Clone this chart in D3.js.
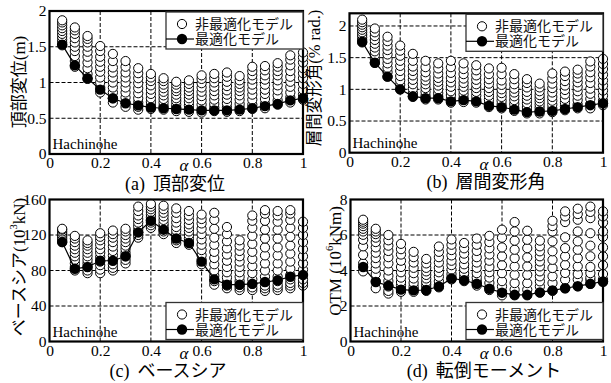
<!DOCTYPE html>
<html><head><meta charset="utf-8">
<script src="https://cdn.jsdelivr.net/npm/d3@7/dist/d3.min.js"></script>
<style>body{margin:0;background:#fff}svg{display:block}</style>
</head><body>
<svg id="c" width="611" height="383"></svg>
<script>
const alphas = [0.05,0.10,0.15,0.20,0.25,0.30,0.35,0.40,0.45,0.50,0.55,0.60,0.65,0.70,0.75,0.80,0.85,0.90,0.95,1.00];
const xTicks = [0,0.2,0.4,0.6,0.8,1];
const legendLabels = ["非最適化モデル","最適化モデル"];
const stationLabel = "Hachinohe";

// (a) 頂部変位
const dispTicks = [0,0.5,1,1.5,2];
const dispOpt = [1.53,1.24,1.06,0.90,0.78,0.71,0.68,0.65,0.64,0.63,0.62,0.61,0.61,0.61,0.62,0.64,0.67,0.70,0.75,0.78];
const dispNon = [
[1.52,1.56,1.60,1.64,1.68,1.72,1.76,1.80,1.84,1.87],
[1.22,1.30,1.37,1.44,1.50,1.56,1.62,1.68,1.73,1.77],
[1.05,1.12,1.20,1.28,1.36,1.43,1.50,1.56,1.61,1.65],
[0.86,0.93,1.00,1.07,1.15,1.22,1.29,1.36,1.44,1.51],
[0.72,0.78,0.86,0.93,1.00,1.07,1.14,1.21,1.30,1.40],
[0.66,0.72,0.79,0.86,0.93,1.00,1.07,1.14,1.22,1.30],
[0.62,0.66,0.72,0.78,0.85,0.92,0.99,1.06,1.13,1.20],
[0.63,0.68,0.73,0.78,0.84,0.90,0.96,1.02,1.07,1.12],
[0.62,0.67,0.72,0.77,0.82,0.87,0.92,0.97,1.02,1.06],
[0.60,0.65,0.69,0.74,0.78,0.83,0.88,0.92,0.97,1.01],
[0.59,0.63,0.68,0.73,0.78,0.83,0.88,0.93,0.98,1.03],
[0.58,0.63,0.69,0.75,0.81,0.87,0.93,0.99,1.05,1.10],
[0.60,0.65,0.70,0.76,0.82,0.88,0.94,1.00,1.06,1.12],
[0.59,0.65,0.71,0.77,0.83,0.89,0.95,1.01,1.08,1.14],
[0.60,0.65,0.70,0.76,0.82,0.88,0.93,0.98,1.03,1.09],
[0.63,0.69,0.76,0.83,0.90,0.97,1.04,1.10,1.16,1.22],
[0.64,0.70,0.77,0.84,0.90,0.97,1.04,1.10,1.17,1.23],
[0.69,0.75,0.82,0.89,0.96,1.03,1.10,1.16,1.22,1.27],
[0.72,0.79,0.86,0.94,1.01,1.08,1.16,1.24,1.32,1.38],
[0.76,0.83,0.90,0.98,1.06,1.13,1.20,1.28,1.35,1.42]
];

// (b) 層間変形角
const driftTicks = [0,0.5,1,1.5,2];
const driftOpt = [1.75,1.42,1.20,1.00,0.89,0.86,0.86,0.81,0.83,0.81,0.74,0.72,0.68,0.64,0.65,0.66,0.69,0.72,0.75,0.78];
const driftNon = [
[1.74,1.78,1.82,1.86,1.90,1.94,1.98,2.02,2.06,2.10],
[1.42,1.48,1.54,1.60,1.66,1.72,1.78,1.84,1.90,1.96],
[1.20,1.27,1.34,1.41,1.48,1.55,1.62,1.69,1.76,1.83],
[1.00,1.07,1.14,1.21,1.29,1.37,1.45,1.53,1.61,1.69],
[0.88,0.94,1.01,1.08,1.15,1.22,1.29,1.36,1.45,1.56],
[0.84,0.90,0.96,1.02,1.08,1.14,1.20,1.27,1.35,1.45],
[0.84,0.89,0.94,1.00,1.06,1.12,1.18,1.25,1.33,1.41],
[0.79,0.85,0.91,0.97,1.04,1.11,1.18,1.26,1.35,1.45],
[0.80,0.86,0.92,0.98,1.04,1.10,1.17,1.24,1.32,1.41],
[0.79,0.84,0.90,0.96,1.02,1.08,1.15,1.22,1.30,1.38],
[0.72,0.78,0.84,0.90,0.96,1.02,1.09,1.16,1.24,1.33],
[0.70,0.76,0.82,0.88,0.94,1.00,1.07,1.14,1.24,1.34],
[0.66,0.71,0.77,0.83,0.89,0.95,1.01,1.08,1.16,1.24],
[0.62,0.67,0.72,0.78,0.84,0.90,0.96,1.03,1.10,1.16],
[0.62,0.66,0.71,0.76,0.81,0.86,0.91,0.97,1.03,1.09],
[0.64,0.70,0.76,0.82,0.88,0.95,1.02,1.09,1.17,1.25],
[0.67,0.73,0.79,0.85,0.92,0.99,1.06,1.13,1.21,1.28],
[0.70,0.76,0.83,0.90,0.97,1.04,1.11,1.18,1.25,1.31],
[0.70,0.77,0.85,0.93,1.01,1.10,1.19,1.27,1.36,1.44],
[0.75,0.82,0.90,0.98,1.06,1.14,1.23,1.32,1.40,1.48]
];

// (c) ベースシア
const shearTicks = [0,40,80,120,160];
const shearOpt = [112,82,84,91,91,96,123,136,126,116,111,90,70,64,64,65,67,69,73,75];
const shearNon = [
[112,114,116,118,120,122,124,126,127],
[80,84,88,92,96,100,104,108,112,116,119],
[77,80,84,88,92,96,100,104,108,111,114],
[77,81,86,90,95,100,104,109,114,118,122],
[80,83,87,92,97,102,107,112,117,121,125],
[88,92,96,100,104,108,112,116,120,124,127],
[117,120,123,126,130,134,138,142,147,152],
[128,131,134,137,140,143,146,149,152,155],
[121,124,127,130,133,137,141,145,149,153],
[111,114,117,121,125,129,134,139,145,150],
[109,112,116,120,124,128,132,137,142,147],
[87,92,97,103,109,115,121,127,133,138,143],
[64,68,74,80,87,94,101,109,117,127,137,145],
[60,63,67,72,78,84,91,98,105,113,121,129],
[58,61,64,68,73,78,84,90,96,102,108,114],
[58,61,65,70,77,85,93,101,110,119,128,136,142],
[57,60,63,67,73,80,88,97,106,116,126,136,144,148],
[58,61,64,68,73,80,88,97,106,116,126,135,142,147],
[60,63,66,70,75,82,90,99,108,118,128,137,144,148],
[63,66,70,75,81,88,96,104,112,120,128,135]
];

// (d) 転倒モーメント
const otmTicks = [0,2,4,6,8];
const otmOpt = [4.20,3.35,3.15,2.92,2.88,2.90,3.10,3.55,3.45,3.25,2.97,2.75,2.63,2.63,2.77,2.88,3.00,3.12,3.25,3.38];
const otmNon = [
[3.95,4.40,4.88,5.36,5.73,6.01,6.20,6.35,6.50,6.64,6.75,6.86],
[3.00,3.40,3.80,4.10,4.40,4.70,5.00,5.30,5.60,5.85,6.05,6.20,6.35],
[2.70,2.85,3.10,3.40,3.70,4.00,4.40,4.75,5.10,5.40,5.70,6.00],
[2.80,2.95,3.15,3.35,3.60,3.90,4.20,4.55,4.90,5.20,5.50],
[2.80,2.95,3.10,3.30,3.55,3.85,4.15,4.45,4.75,5.05],
[2.85,3.05,3.20,3.35,3.55,3.75,3.95,4.15,4.40,4.65],
[3.05,3.20,3.40,3.65,3.90,4.15,4.45,4.75,5.05,5.35],
[3.50,3.60,3.80,4.05,4.30,4.55,4.85,5.15,5.45,5.75],
[3.40,3.50,3.65,3.85,4.10,4.35,4.65,4.95,5.25,5.55],
[3.15,3.25,3.40,3.60,3.85,4.15,4.45,4.75,5.10,5.45,5.80],
[2.90,3.05,3.30,3.60,3.90,4.20,4.55,4.90,5.25,5.60,5.95],
[2.60,2.80,3.10,3.40,3.85,4.30,4.80,5.30,5.85,6.30],
[2.60,2.92,3.29,3.76,4.23,4.70,5.17,5.68,6.20,6.73],
[2.60,2.92,3.29,3.76,4.23,4.74,5.26,5.73,6.24],
[2.75,3.10,3.39,3.67,3.95,4.23,4.51,4.80,5.08,5.36,5.68],
[2.85,3.29,3.67,4.14,4.60,5.08,5.64,6.20,6.50,6.80],
[3.00,3.48,3.86,4.32,4.80,5.26,5.87,6.73,7.05,7.33],
[3.10,3.50,3.80,4.23,4.70,5.17,5.64,6.20,6.86,7.18,7.48],
[3.25,3.45,3.60,3.85,4.20,4.80,5.40,6.10,6.95,7.30,7.60],
[3.35,3.50,3.80,4.30,4.80,5.30,5.90,6.20,6.70,7.05,7.33]
];

const SERIF = "'Liberation Serif','Times New Roman','Noto Sans CJK JP',serif";
const JP = "'Liberation Serif','Noto Sans CJK JP',sans-serif";

const panels = [
  {x0:49.5, x1:303, yT:11, yB:154, ymax:2, ticks:dispTicks, opt:dispOpt, non:dispNon,
   ylab:[{t:"頂部変位(m)"}], ylx:19, ylc:82, ylfs:17, legendTop:true, cap:"(a)", capT:"頂部変位", capX:175},
  {x0:349.5, x1:603, yT:13.3, yB:152.7, ymax:2.2, ticks:driftTicks, opt:driftOpt, non:driftNon,
   ylab:[{t:"層間変形角(% rad.)"}], ylx:314, ylc:78, ylfs:16.5, legendTop:true, cap:"(b)", capT:"層間変形角", capX:486},
  {x0:49.5, x1:303, yT:199.5, yB:341.5, ymax:160, ticks:shearTicks, opt:shearOpt, non:shearNon,
   ylab:[{t:"ベースシア(10"},{t:"3",sup:true},{t:"kN)"}], ylx:19, ylc:267, ylfs:17, legendTop:false, cap:"(c)", capT:"ベースシア", capX:168},
  {x0:350.5, x1:603, yT:199.5, yB:341.5, ymax:8, ticks:otmTicks, opt:otmOpt, non:otmNon,
   ylab:[{t:"OTM (10"},{t:"6",sup:true},{t:"kNm)"}], ylx:335, ylc:261, ylfs:17, legendTop:false, cap:"(d)", capT:"転倒モーメント", capX:484}
];

const svg = d3.select("#c");

panels.forEach(p => {
  const x = d3.scaleLinear().domain([0,1]).range([p.x0,p.x1]);
  const y = d3.scaleLinear().domain([0,p.ymax]).range([p.yB,p.yT]);
  const g = svg.append("g");

  // grid
  g.append("g").selectAll("line").data(xTicks.filter(t=>t>0&&t<1)).join("line")
    .attr("x1",d=>x(d)).attr("x2",d=>x(d)).attr("y1",p.yT).attr("y2",p.yB)
    .attr("stroke","#000").attr("stroke-width",1).attr("stroke-dasharray","4,2");
  g.append("g").selectAll("line").data(p.ticks.filter(t=>t>0&&y(t)>p.yT+2)).join("line")
    .attr("x1",p.x0).attr("x2",p.x1).attr("y1",d=>y(d)).attr("y2",d=>y(d))
    .attr("stroke","#000").attr("stroke-width",1).attr("stroke-dasharray","4,2");

  // axes
  const ax = g.append("g").attr("transform",`translate(0,${p.yB})`)
    .call(d3.axisBottom(x).tickValues(xTicks).tickFormat(d3.format("~g")).tickSize(0).tickPadding(3));
  const ay = g.append("g").attr("transform",`translate(${p.x0},0)`)
    .call(d3.axisLeft(y).tickValues(p.ticks).tickFormat(d3.format("~g")).tickSize(0).tickPadding(3));
  [ax,ay].forEach(a => {
    a.select(".domain").remove();
    a.selectAll("text").attr("font-family",SERIF).attr("font-size",15.5).attr("fill","#000");
  });

  // open circles
  const pts = [];
  p.non.forEach((col,i) => col.forEach(v => pts.push([alphas[i],v])));
  g.append("g").selectAll("circle").data(pts).join("circle")
    .attr("cx",d=>x(d[0])).attr("cy",d=>y(d[1])).attr("r",4.6)
    .attr("fill","#fff").attr("stroke","#000").attr("stroke-width",1);

  // optimized line + dots
  const opt = alphas.map((a,i)=>[a,p.opt[i]]);
  g.append("path").datum(opt)
    .attr("d",d3.line().x(d=>x(d[0])).y(d=>y(d[1])))
    .attr("fill","none").attr("stroke","#000").attr("stroke-width",1.2);
  g.append("g").selectAll("circle").data(opt).join("circle")
    .attr("cx",d=>x(d[0])).attr("cy",d=>y(d[1])).attr("r",5.2).attr("fill","#000");

  // frame
  g.append("rect").attr("x",p.x0).attr("y",p.yT).attr("width",p.x1-p.x0).attr("height",p.yB-p.yT)
    .attr("fill","none").attr("stroke","#000").attr("stroke-width",2.2);

  // station label
  g.append("text").attr("x",p.x0+3).attr("y",p.yB-5).text(stationLabel)
    .attr("font-family",SERIF).attr("font-size",15);

  // legend
  const bw = 137, bh = 37;
  const bx = p.x1 - bw, by = p.legendTop ? p.yT + 1 : p.yB - 2 - bh;
  const lg = g.append("g");
  lg.append("rect").attr("x",bx).attr("y",by).attr("width",bw).attr("height",bh)
    .attr("fill","#fff").attr("stroke","#333").attr("stroke-width",1.3);
  const cx = p.x1 - 121, tx = p.x1 - 108;
  lg.append("circle").attr("cx",cx).attr("cy",by+12).attr("r",4.6)
    .attr("fill","#fff").attr("stroke","#000");
  lg.append("line").attr("x1",bx).attr("x2",tx-1).attr("y1",by+27).attr("y2",by+27)
    .attr("stroke","#000").attr("stroke-width",1.2);
  lg.append("circle").attr("cx",cx).attr("cy",by+27).attr("r",5.2).attr("fill","#000");
  lg.selectAll("text").data(legendLabels).join("text")
    .attr("x",tx).attr("y",(d,i)=>by+17+i*15).text(d=>d)
    .attr("font-family",JP).attr("font-size",14).attr("fill","#111");

  // alpha label
  g.append("text").attr("x",p.x0+0.53*(p.x1-p.x0)).attr("y",p.yB+17)
    .attr("text-anchor","middle").attr("font-family",SERIF).attr("font-style","italic")
    .attr("font-size",17).text("α");

  // caption
  const cap = g.append("text").attr("x",p.capX).attr("y",p.yB+35.5).attr("text-anchor","middle")
    .attr("font-family",JP).attr("font-size",18);
  cap.append("tspan").text(p.cap);
  cap.append("tspan").attr("dx",8).text(p.capT);

  // y label
  const yl = g.append("text").attr("transform",`translate(${p.ylx},${p.ylc}) rotate(-90)`)
    .attr("text-anchor","middle").attr("dominant-baseline","central")
    .attr("font-family",JP).attr("font-size",p.ylfs);
  p.ylab.forEach((s,i) => {
    const t = yl.append("tspan").text(s.t);
    if (s.sup) t.attr("font-size",10.5).attr("dy",-6);
    else if (i>0 && p.ylab[i-1].sup) t.attr("dy",6);
  });
});
</script>
</body></html>
